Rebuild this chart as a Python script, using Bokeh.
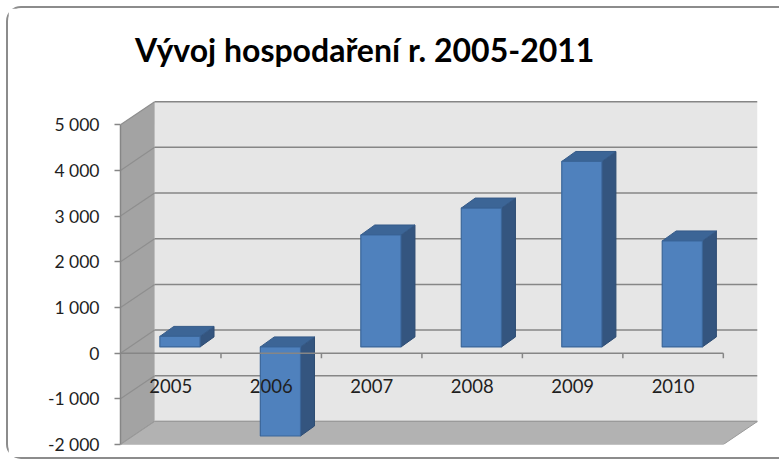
from bokeh.plotting import figure
from bokeh.models import Range1d, FixedTicker
from bokeh.core.properties import value
from bokeh.embed import file_html
from bokeh.resources import INLINE

# ---- data ----
TITLE = "Vývoj hospodaření r. 2005-2011"
years = ["2005", "2006", "2007", "2008", "2009", "2010"]
results = [230, -1950, 2450, 3040, 4060, 2320]
y_ticks = [-2000, -1000, 0, 1000, 2000, 3000, 4000, 5000]
y_tick_labels = ["-2 000", "-1 000", "0", "1 000", "2 000", "3 000", "4 000", "5 000"]

# ---- projection / style constants ----
Y_MIN, Y_MAX = -2000, 5000
N = len(years)
DX, DY = 0.34, 505          # depth of the 3-D box (category units, value units)
F0 = 0.27                   # relative depth of bar front face
HALF_W = 0.2                # half bar width
DDX, DDY = 0.139, 219       # bar depth
TICK = 110                  # category tick length (value units)

FONT = "Lato"
TEXT_COLOR = "#1f1f1f"
GRID_COLOR = "#868686"

p = figure(width=773, height=453, output_backend="svg", toolbar_location=None,
           x_range=Range1d(0, N + DX), y_range=Range1d(Y_MIN, 7545),
           x_axis_type=None, min_border=0)
p.min_border_left = 112
p.min_border_right = 24
p.min_border_top = 0
p.min_border_bottom = 17
p.outline_line_color = None
p.ygrid.visible = False
p.background_fill_color = "white"
p.border_fill_color = "white"
p.styles = {
    "margin-left": "6px",
    "margin-top": "6px",
    "border-left": "2px solid #8c8c8c",
    "border-top": "2px solid #8c8c8c",
    "border-bottom": "2px solid #8c8c8c",
    "border-top-left-radius": "15px",
    "border-bottom-left-radius": "15px",
}

# y axis
ya = p.yaxis[0]
ya.ticker = FixedTicker(ticks=y_ticks)
ya.bounds = (Y_MIN, Y_MAX)
ya.major_label_overrides = {t: lab for t, lab in zip(y_ticks, y_tick_labels)}
ya.major_tick_in = 0
ya.major_tick_out = 6
ya.minor_tick_out = 0
ya.minor_tick_in = 0
ya.axis_line_color = GRID_COLOR
ya.axis_line_width = 1.5
ya.major_tick_line_color = GRID_COLOR
ya.major_tick_line_width = 1.5
ya.major_label_text_font = FONT
ya.major_label_text_font_size = "17.5px"
ya.major_label_text_color = TEXT_COLOR
ya.major_label_standoff = 15

# back wall
p.quad(left=[DX], right=[N + DX], bottom=[Y_MIN + DY], top=[Y_MAX + DY],
       fill_color="#e6e6e6", line_color=None)
# side wall
p.patch([0, DX, DX, 0], [Y_MIN, Y_MIN + DY, Y_MAX + DY, Y_MAX],
        fill_color="#a3a3a3", line_color=None)
# gridlines on back wall and side wall
p.segment(x0=[DX] * len(y_ticks), y0=[t + DY for t in y_ticks],
          x1=[N + DX] * len(y_ticks), y1=[t + DY for t in y_ticks],
          line_color=GRID_COLOR, line_width=1.5)
p.segment(x0=[0] * len(y_ticks), y0=y_ticks,
          x1=[DX] * len(y_ticks), y1=[t + DY for t in y_ticks],
          line_color="#8e8e8e", line_width=1.2)
# floor
p.patch([0, N, N + DX, DX], [Y_MIN, Y_MIN, Y_MIN + DY, Y_MIN + DY],
        fill_color="#b2b2b2", line_color="#9a9a9a", line_width=1)

# bars
side_xs, side_ys, top_xs, top_ys = [], [], [], []
fl, fr, fb, ft = [], [], [], []
for i, v in enumerate(results):
    xc = i + 0.5 + F0 * DX
    base = F0 * DY
    lo = min(0, v) + base
    hi = max(0, v) + base
    xl, xr = xc - HALF_W, xc + HALF_W
    side_xs.append([xr, xr + DDX, xr + DDX, xr])
    side_ys.append([lo, lo + DDY, hi + DDY, hi])
    top_xs.append([xl, xl + DDX, xr + DDX, xr])
    top_ys.append([hi, hi + DDY, hi + DDY, hi])
    fl.append(xl); fr.append(xr); fb.append(lo); ft.append(hi)

p.patches(side_xs, side_ys, fill_color="#34557f", line_color="#2e4c72", line_width=1)
p.patches(top_xs, top_ys, fill_color="#3c6596", line_color="#355a88", line_width=1)
p.quad(left=fl, right=fr, bottom=fb, top=ft,
       fill_color="#4f81bd", line_color="#3b6699", line_width=1.2)

# category axis (front plane at 0)
p.segment(x0=[0], y0=[0], x1=[N], y1=[0], line_color=GRID_COLOR, line_width=1.5)
p.segment(x0=list(range(1, N + 1)), y0=[0] * N, x1=list(range(1, N + 1)),
          y1=[-TICK] * N, line_color=GRID_COLOR, line_width=1.5)
p.text(x=[i + 0.5 for i in range(N)], y=[-722] * N, text=years,
       text_align="center", text_baseline="middle",
       text_font=value(FONT), text_font_size="18.5px", text_color=TEXT_COLOR)

# title
p.text(x=[2.43], y=[6650], text=[TITLE], text_align="center", text_baseline="middle",
       text_font=value(FONT), text_font_style="bold", text_font_size="32px",
       text_color="#000000")

open("out.html", "w").write(file_html(p, INLINE))
